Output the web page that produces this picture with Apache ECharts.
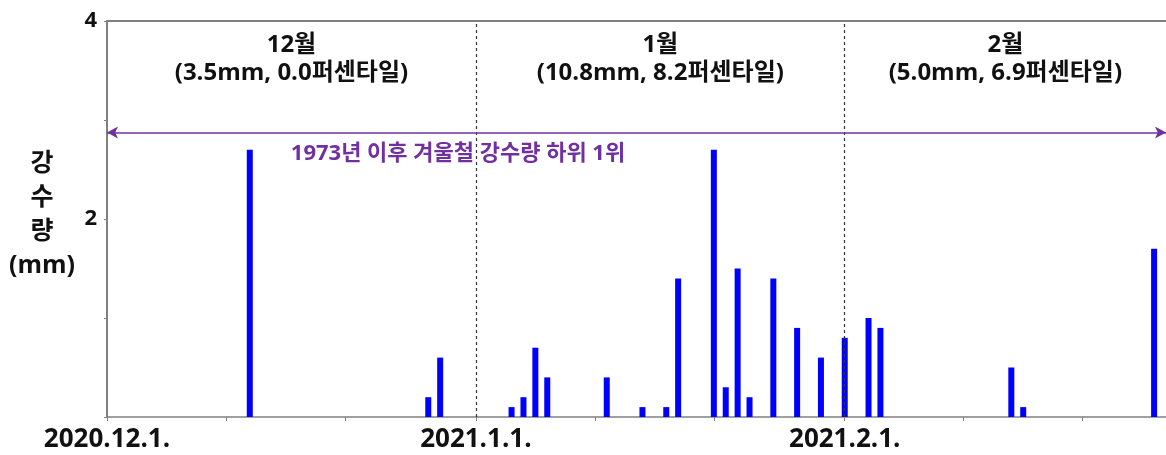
<!DOCTYPE html>
<html>
<head>
<meta charset="utf-8">
<script src="https://cdn.jsdelivr.net/npm/echarts@6/dist/echarts.min.js"></script>
<style>html,body{margin:0;padding:0;background:#fff}#c{width:1166px;height:455px}</style>
</head>
<body>
<div id="c"></div>
<script>
// ---- data ----
var START_DATE = '2020-12-01';
var END_DATE = '2021-02-28';
var rainDates = ['2020-12-13','2020-12-28','2020-12-29',
  '2021-01-04','2021-01-05','2021-01-06','2021-01-07','2021-01-12','2021-01-15','2021-01-17','2021-01-18',
  '2021-01-21','2021-01-22','2021-01-23','2021-01-24','2021-01-26','2021-01-28','2021-01-30',
  '2021-02-01','2021-02-03','2021-02-04','2021-02-15','2021-02-16','2021-02-27'];
var rainValues = [2.7,0.2,0.6,
  0.1,0.2,0.7,0.4,0.4,0.1,0.1,1.4,
  2.7,0.3,1.5,0.2,1.4,0.9,0.6,
  0.8,1.0,0.9,0.5,0.1,1.7];
var monthStarts = ['2020-12-01','2021-01-01','2021-02-01'];
var monthLabels = ['2020.12.1.','2021.1.1.','2021.2.1.'];
var minorTickDates = ['2020-12-01','2020-12-11','2020-12-21','2021-01-01','2021-01-11','2021-01-21','2021-02-01','2021-02-11','2021-02-21'];
var monthTitles = ['12월\n(3.5mm, 0.0퍼센타일)','1월\n(10.8mm, 8.2퍼센타일)','2월\n(5.0mm, 6.9퍼센타일)'];
var yTickLabels = [2,4];
var yAxisTitle = '강\n수\n량\n(mm)';
var recordText = '1973년 이후 겨울철 강수량 하위 1위';
var ARROW_Y = 2.875;
var RECORD_POS = ['2020-12-30T12:00', 2.66];

// ---- helpers ----
function dayIndex(s){
  var d = new Date(s.length > 10 ? s + 'Z' : s + 'T00:00Z');
  var o = new Date(START_DATE + 'T00:00Z');
  return (d - o) / 86400000;
}
var maxDay = dayIndex(END_DATE);
var barData = rainDates.map(function(d,i){ return [dayIndex(d), rainValues[i]]; });
var monthIdx = monthStarts.map(dayIndex);
var labelMap = {};
monthIdx.forEach(function(v,i){ labelMap[v] = monthLabels[i]; });
var areaBounds = monthIdx.concat([maxDay]);

var FONT = '"Open Sans", "Noto Sans CJK KR", sans-serif';
var chart = echarts.init(document.getElementById('c'), null, {renderer:'canvas'});
chart.setOption({
  animation:false,
  backgroundColor:'#fff',
  grid:{left:107, right:0, top:21, bottom:38},
  xAxis:[{
    type:'value', min:0, max:maxDay, position:'bottom',
    axisLine:{show:true, lineStyle:{color:'#808080', width:1.5}},
    axisTick:{show:true, inside:false, length:4, customValues:minorTickDates.map(dayIndex), lineStyle:{color:'#808080'}},
    axisLabel:{customValues:monthIdx, formatter:function(v){ return labelMap[v] || ''; },
      color:'#111', fontWeight:'bold', fontSize:26, fontFamily:FONT, margin:10},
    splitLine:{show:false}
  },{
    type:'value', min:0, max:maxDay, position:'top',
    axisLine:{show:true, lineStyle:{color:'#808080', width:2}},
    axisTick:{show:false}, axisLabel:{show:false}, splitLine:{show:false}
  }],
  yAxis:{
    type:'value', min:0, max:4, interval:1,
    axisLine:{show:true, lineStyle:{color:'#808080', width:2}},
    axisTick:{show:true, length:3, lineStyle:{color:'#808080'}},
    axisLabel:{customValues:yTickLabels, color:'#111', fontWeight:'bold', fontSize:22, fontFamily:FONT, margin:10},
    splitLine:{show:false}
  },
  graphic:[{
    type:'text', x:42, y:147,
    style:{text:yAxisTitle, textAlign:'center', fill:'#111', font:'bold 25px ' + FONT, lineHeight:34}
  }],
  series:[{
    type:'bar', data:barData, barWidth:6, xAxisIndex:0,
    itemStyle:{color:'#0000ff'},
    markArea:{
      silent:true,
      itemStyle:{color:'rgba(0,0,0,0)'},
      label:{show:true, position:'insideTop', distance:10, color:'#111', fontWeight:'bold', fontSize:24, fontFamily:FONT, lineHeight:28},
      data:monthTitles.map(function(t,i){ return [{xAxis:areaBounds[i], name:t},{xAxis:areaBounds[i+1]}]; })
    },
    markLine:{
      silent:true, symbol:'none',
      data:[
        {xAxis:monthIdx[1], lineStyle:{color:'#333', type:[3,3], width:1.2}, label:{show:false}},
        {xAxis:monthIdx[2], lineStyle:{color:'#333', type:[3,3], width:1.2}, label:{show:false}},
        [{coord:[0, ARROW_Y], symbol:'arrow', symbolSize:[9,11], lineStyle:{color:'#7030a0', type:'solid', width:1.5}, label:{show:false}},
         {coord:[maxDay, ARROW_Y], symbol:'arrow', symbolSize:[9,11]}]
      ]
    },
    markPoint:{
      silent:true, symbol:'circle', symbolSize:0,
      label:{show:true, position:'inside', color:'#7030a0', fontWeight:'bold', fontSize:22, fontFamily:FONT, formatter:function(){return recordText;}},
      data:[{coord:[dayIndex(RECORD_POS[0]), RECORD_POS[1]]}]
    }
  }]
});
</script>
</body>
</html>
